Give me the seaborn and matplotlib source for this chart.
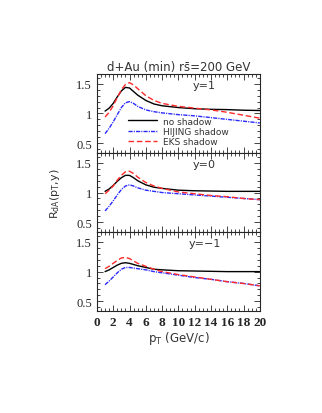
import matplotlib
matplotlib.use("Agg")
import matplotlib.pyplot as plt
from matplotlib.ticker import MultipleLocator
import seaborn as sns
import pandas as pd

# --- data ---
pt = [1, 1.5, 2, 2.5, 3, 3.5, 4, 4.5, 5, 6, 7, 8, 10, 12, 14, 16, 18, 20]

rapidities = ["y=1", "y=0", "y=\u22121"]
x_ticks = list(range(0, 21, 2))
y_ticks = [0.5, 1, 1.5]

no_shadow = {
    "y=1": [1.04, 1.09, 1.17, 1.28, 1.38, 1.44, 1.43, 1.37, 1.31, 1.22, 1.16, 1.13, 1.10, 1.08, 1.07, 1.065, 1.055, 1.05],
    "y=0": [1.02, 1.06, 1.12, 1.19, 1.25, 1.29, 1.29, 1.25, 1.20, 1.13, 1.09, 1.07, 1.04, 1.03, 1.025, 1.02, 1.02, 1.02],
    "y=\u22121": [1.00, 1.03, 1.07, 1.11, 1.14, 1.15, 1.14, 1.12, 1.10, 1.07, 1.04, 1.03, 1.015, 1.01, 1.005, 1.0, 1.0, 1.0],
}
hijing = {
    "y=1": [0.66, 0.75, 0.86, 0.98, 1.10, 1.18, 1.20, 1.17, 1.12, 1.06, 1.03, 1.01, 0.98, 0.96, 0.93, 0.90, 0.87, 0.84],
    "y=0": [0.69, 0.77, 0.86, 0.96, 1.05, 1.11, 1.13, 1.11, 1.08, 1.04, 1.02, 1.00, 0.98, 0.96, 0.94, 0.92, 0.90, 0.88],
    "y=\u22121": [0.78, 0.84, 0.91, 0.98, 1.04, 1.07, 1.07, 1.06, 1.05, 1.03, 1.00, 0.98, 0.94, 0.90, 0.87, 0.83, 0.80, 0.76],
}
eks = {
    "y=1": [0.94, 1.02, 1.13, 1.27, 1.40, 1.49, 1.52, 1.48, 1.42, 1.30, 1.22, 1.17, 1.12, 1.09, 1.06, 1.02, 0.97, 0.92],
    "y=0": [0.98, 1.04, 1.11, 1.21, 1.29, 1.35, 1.36, 1.32, 1.26, 1.17, 1.11, 1.07, 1.01, 0.98, 0.95, 0.93, 0.90, 0.88],
    "y=\u22121": [1.05, 1.09, 1.14, 1.19, 1.23, 1.24, 1.22, 1.18, 1.14, 1.09, 1.04, 1.00, 0.95, 0.91, 0.87, 0.83, 0.80, 0.76],
}

models = ["no shadow", "HIJING shadow", "EKS shadow"]
colors = {"no shadow": "black", "HIJING shadow": "#2a2aff", "EKS shadow": "#ff2a2a"}
dashes = {"no shadow": "", "HIJING shadow": (3, 0.8, 0.8, 0.8), "EKS shadow": (4, 2)}

rows = []
for y in rapidities:
    for m, src in zip(models, [no_shadow, hijing, eks]):
        for x, v in zip(pt, src[y]):
            rows.append({"pt": x, "R": v, "model": m, "y": y})
df = pd.DataFrame(rows)

sns.set_style("ticks")
plt.rcParams["font.family"] = ["DejaVu Sans"]

fig = plt.figure(figsize=(3.22, 4.14), dpi=100)
left, right, bottom, top = 0.301, 0.807, 0.246, 0.819
h = (top - bottom) / 3
axes = []
for i in range(3):
    ax = fig.add_axes([left, top - (i + 1) * h, right - left, h])
    axes.append(ax)

for i, (ax, y) in enumerate(zip(axes, rapidities)):
    sub = df[df["y"] == y]
    sns.lineplot(data=sub, x="pt", y="R", hue="model", style="model",
                 hue_order=models, style_order=models, palette=colors,
                 dashes=dashes, linewidth=1.0, ax=ax, legend=(i == 0))
    ax.set_ylim(0.333, 1.667)
    ax.set_yticks(y_ticks)
    ax.set_yticklabels(["0.5", "1", "1.5"], family="Liberation Serif", fontsize=9)
    ax.yaxis.set_minor_locator(MultipleLocator(0.1))
    ax.set_xticks(x_ticks)
    ax.xaxis.set_minor_locator(MultipleLocator(0.5))
    ax.tick_params(which="both", direction="in", top=True, right=True, width=0.6)
    ax.tick_params(which="major", length=4)
    ax.tick_params(which="minor", length=2)
    for s in ax.spines.values():
        s.set_linewidth(0.8)
    ax.set_xlabel("")
    ax.set_ylabel("")
    ax.text(0.66, 0.86, y, transform=ax.transAxes, ha="center", va="center",
            fontsize=8, color="#333333")
    if i < 2:
        ax.tick_params(labelbottom=False)
    else:
        ax.set_xticklabels([str(v) for v in x_ticks],
                           family="Liberation Serif", fontsize=9.5, fontweight="bold")
    ax.set_xlim(0, 20)

leg = axes[0].legend(loc="lower left", bbox_to_anchor=(0.17, 0.04), frameon=False,
                     fontsize=6.5, handlelength=3.2, labelspacing=0.15,
                     handletextpad=0.6, borderaxespad=0)
for t in leg.get_texts():
    t.set_color("#333333")

axes[0].set_title("d+Au (min) rs\u0304=200 GeV", fontsize=8.5, color="#333333", pad=3)
axes[2].set_xlabel("p$_{\\rm T}$ (GeV/c)", fontsize=8.5, color="#333333", labelpad=1)
fig.text(0.17, (top + bottom) / 2, "R$_{\\rm dA}$(p$_{\\rm T}$,y)", rotation=90,
         ha="center", va="center", fontsize=8, color="#333333")

fig.savefig("out.png", dpi=100)
